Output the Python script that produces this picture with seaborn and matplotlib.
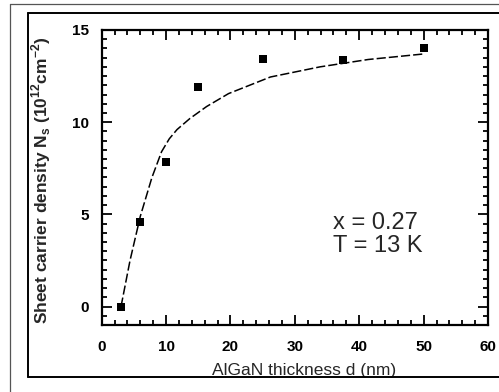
import matplotlib
matplotlib.use("Agg")
import matplotlib.pyplot as plt
from matplotlib.lines import Line2D
from matplotlib.ticker import MultipleLocator
import seaborn as sns
import pandas as pd

# measured points
thickness_nm = [3, 6, 10, 15, 25, 37.5, 50]
density = [0.0, 4.6, 7.85, 11.9, 13.4, 13.35, 14.0]

# fitted curve
curve_d = [3, 4.4, 6, 7.8, 9.3, 10.5, 11.7, 13.7, 16.3, 19.7, 26.2, 33.9, 41.4, 50]
curve_n = [0.0, 2.5, 4.9, 7.0, 8.4, 9.1, 9.6, 10.2, 10.85, 11.55, 12.45, 13.0, 13.4, 13.7]

x_ticks = [0, 10, 20, 30, 40, 50, 60]
y_ticks = [0, 5, 10, 15]

sns.set_theme(style="ticks")
plt.rcParams['font.family'] = ['Liberation Sans', 'DejaVu Sans']

fig = plt.figure(figsize=(4.99, 3.92), dpi=100)
ax = fig.add_axes([0.2038, 0.1709, 0.978 - 0.2038, 0.9235 - 0.1709])

pts = pd.DataFrame({"d": thickness_nm, "n": density})
fit = pd.DataFrame({"d": curve_d, "n": curve_n})

sns.lineplot(data=fit, x="d", y="n", ax=ax, color="black", linewidth=1.1,
             linestyle=(0, (6, 2)), sort=False)
sns.scatterplot(data=pts, x="d", y="n", ax=ax, marker="s", s=28,
                color="black", edgecolor="black", linewidth=0, zorder=5)

ax.set_xlim(0, 60)
ax.set_ylim(-1, 15)
ax.set_xticks(x_ticks)
ax.set_yticks(y_ticks)
ax.xaxis.set_minor_locator(MultipleLocator(2))
ax.yaxis.set_minor_locator(MultipleLocator(0.5))
ax.tick_params(which="both", direction="in", top=True, right=True,
               width=1.3, colors="black")
ax.tick_params(which="major", length=7, labelsize=11)
ax.tick_params(axis="x", which="major", pad=11)
ax.tick_params(axis="y", which="major", pad=9)
ax.tick_params(which="minor", length=3.5)
for lab in ax.get_xticklabels() + ax.get_yticklabels():
    lab.set_fontweight("bold")
for sp in ax.spines.values():
    sp.set_linewidth(1.6)
    sp.set_color("black")

ax.set_xlabel("AlGaN thickness d (nm)", fontsize=12.5)
ax.set_ylabel(r"Sheet carrier density N$_\mathregular{s}$ (10$^\mathregular{12}$cm$^\mathregular{-2}$)",
              fontsize=12.5, fontweight="bold")
ax.xaxis.set_label_coords(0.525, -0.13)
ax.yaxis.set_label_coords(-0.125, 0.49)

ax.text(36, 4.55, "x = 0.27", fontsize=17, ha="left", va="center")
ax.text(36, 3.3, "T = 13 K", fontsize=17, ha="left", va="center")

# page frame lines
W, H = 499, 392
def fl(x0, y0, x1, y1, lw, c):
    fig.add_artist(Line2D([x0 / W, x1 / W], [1 - y0 / H, 1 - y1 / H],
                          transform=fig.transFigure, color=c, linewidth=lw))
fl(10, 4, 10, 392, 0.9, "#555555")
fl(10, 4, 499, 4, 0.9, "#555555")
fl(28, 13, 28, 377, 1.4, "black")
fl(28, 13, 499, 13, 1.4, "black")
fl(28, 377, 499, 377, 1.4, "black")

fig.savefig("out.png", dpi=100)
